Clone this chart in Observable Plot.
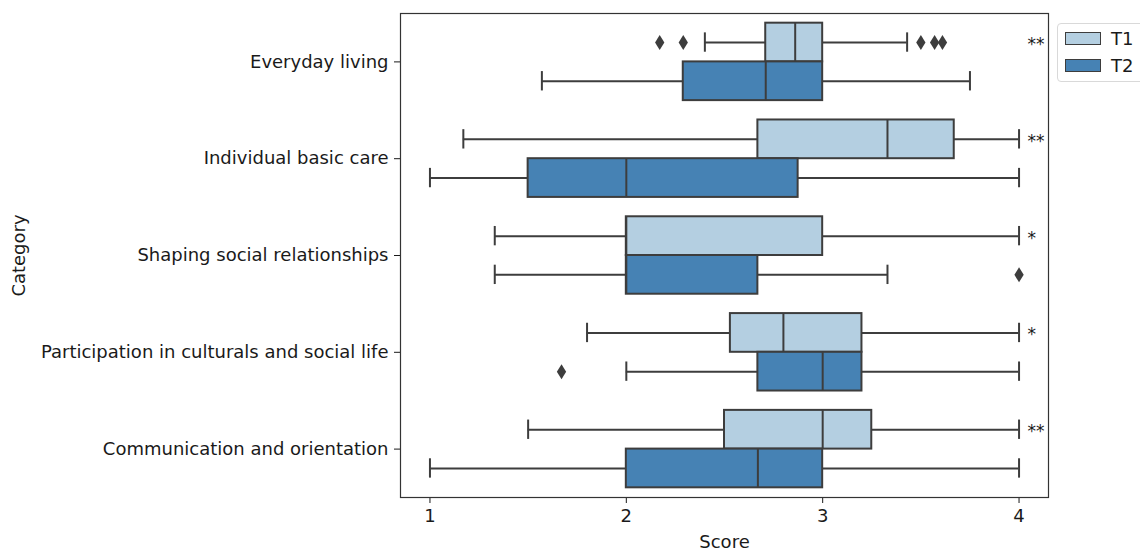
<!DOCTYPE html>
<html>
<head>
<meta charset="utf-8">
<script src="https://cdn.jsdelivr.net/npm/d3@7"></script>
<script src="https://cdn.jsdelivr.net/npm/@observablehq/plot@0.6"></script>
<style>
  body { margin: 0; background: #fff; font-family: "DejaVu Sans", sans-serif; }
  #wrap { position: relative; width: 1140px; height: 551px; overflow: hidden; }
  #legend { position: absolute; left: 1057px; top: 23px; width: 100px; height: 59px;
            border: 1px solid #d9d9d9; border-radius: 4px; background: #fff; box-sizing: border-box; }
  .li { position: absolute; left: 7px; display: flex; align-items: center; font-size: 18px; color: #1a1a1a; }
  .sw { width: 36px; height: 13px; border: 1.3px solid #3d3d3d; margin-right: 10px; box-sizing: border-box; }
</style>
</head>
<body>
<div id="wrap"></div>
<script>
const categories = [
  "Everyday living",
  "Individual basic care",
  "Shaping social relationships",
  "Participation in culturals and social life",
  "Communication and orientation"
];
const groups = ["T1", "T2"];
const groupColors = ["#b4cfe1", "#4682b4"];

const t1Low    = [2.40, 1.17, 1.33, 1.80, 1.50];
const t1Q1     = [2.71, 2.67, 2.00, 2.53, 2.50];
const t1Median = [2.86, 3.33, 2.00, 2.80, 3.00];
const t1Q3     = [3.00, 3.67, 3.00, 3.20, 3.25];
const t1High   = [3.43, 4.00, 4.00, 4.00, 4.00];

const t2Low    = [1.57, 1.00, 1.33, 2.00, 1.00];
const t2Q1     = [2.29, 1.50, 2.00, 2.67, 2.00];
const t2Median = [2.71, 2.00, 2.00, 3.00, 2.67];
const t2Q3     = [3.00, 2.875, 2.67, 3.20, 3.00];
const t2High   = [3.75, 4.00, 3.33, 4.00, 4.00];

const outlierCategory = [0, 0, 0, 0, 0, 2, 3];
const outlierGroup    = ["T1", "T1", "T1", "T1", "T1", "T2", "T2"];
const outlierValue    = [2.17, 2.29, 3.50, 3.57, 3.61, 4.00, 1.67];

const significance = ["**", "**", "*", "*", "**"];
const xTicks = [1, 2, 3, 4];

// seaborn layout: each category is one unit, two boxes of 0.4 each
const half = 0.2;
const offset = g => (g === "T1" ? -half : half);

const stats = {
  T1: [t1Low, t1Q1, t1Median, t1Q3, t1High],
  T2: [t2Low, t2Q1, t2Median, t2Q3, t2High]
};
const rows = [];
categories.forEach((c, i) => {
  groups.forEach(g => {
    const [lo, q1, med, q3, hi] = stats[g];
    rows.push({cat: c, group: g, pos: i + offset(g),
      lo: lo[i], q1: q1[i], med: med[i], q3: q3[i], hi: hi[i]});
  });
});
const outliers = outlierValue.map((v, k) => ({
  value: v, group: outlierGroup[k], pos: outlierCategory[k] + offset(outlierGroup[k])
}));
const stars = categories.map((c, i) => ({text: significance[i], pos: i + offset("T1")}));

const thinDiamond = {
  draw(context, size) {
    const r = Math.sqrt(size / Math.PI);
    context.moveTo(0, -r);
    context.lineTo(0.62 * r, 0);
    context.lineTo(0, r);
    context.lineTo(-0.62 * r, 0);
    context.closePath();
  }
};

const edge = "#3d3d3d";
const sw = 2;

const chart = Plot.plot({
  width: 1140,
  height: 551,
  marginLeft: 400,
  marginRight: 92,
  marginTop: 13,
  marginBottom: 54,
  style: {fontFamily: "DejaVu Sans, sans-serif", fontSize: "18px", color: "#1a1a1a", background: "#fff"},
  x: {domain: [0.85, 4.15], ticks: xTicks, tickFormat: d => String(d), label: "Score",
      labelAnchor: "center", labelArrow: "none", labelOffset: 50, tickSize: 6, tickPadding: 6},
  y: {domain: [-0.5, 4.5], reverse: true, ticks: categories.map((_, i) => i),
      tickFormat: i => categories[i], label: "Category", labelAnchor: "center", labelArrow: "none",
      labelOffset: 388, tickSize: 6, tickPadding: 6},
  color: {domain: groups, range: groupColors},
  marks: [
    Plot.ruleY(rows, {y: "pos", x1: "lo", x2: "q1", stroke: edge, strokeWidth: sw}),
    Plot.ruleY(rows, {y: "pos", x1: "q3", x2: "hi", stroke: edge, strokeWidth: sw}),
    Plot.ruleX(rows, {x: "lo", y1: d => d.pos - half / 2, y2: d => d.pos + half / 2, stroke: edge, strokeWidth: sw}),
    Plot.ruleX(rows, {x: "hi", y1: d => d.pos - half / 2, y2: d => d.pos + half / 2, stroke: edge, strokeWidth: sw}),
    Plot.rect(rows, {x1: "q1", x2: "q3", y1: d => d.pos - half, y2: d => d.pos + half,
      fill: "group", stroke: edge, strokeWidth: sw}),
    Plot.ruleX(rows, {x: "med", y1: d => d.pos - half, y2: d => d.pos + half, stroke: edge, strokeWidth: sw}),
    Plot.dot(outliers, {x: "value", y: "pos", r: 7.5, symbol: thinDiamond, fill: edge, stroke: "none"}),
    Plot.text(stars, {y: "pos", frameAnchor: "right", dx: -21, textAnchor: "start", text: "text",
      fontSize: 17, fill: "#1a1a1a", dy: 2}),
    Plot.frame({stroke: "#333", strokeWidth: 1.2})
  ]
});

const wrap = document.getElementById("wrap");
wrap.appendChild(chart);

const legend = document.createElement("div");
legend.id = "legend";
groups.forEach((g, k) => {
  const item = document.createElement("div");
  item.className = "li";
  item.style.top = (k === 0 ? 4 : 31) + "px";
  const s = document.createElement("div");
  s.className = "sw";
  s.style.background = groupColors[k];
  const t = document.createElement("span");
  t.textContent = g;
  item.appendChild(s);
  item.appendChild(t);
  legend.appendChild(item);
});
wrap.appendChild(legend);
</script>
</body>
</html>
